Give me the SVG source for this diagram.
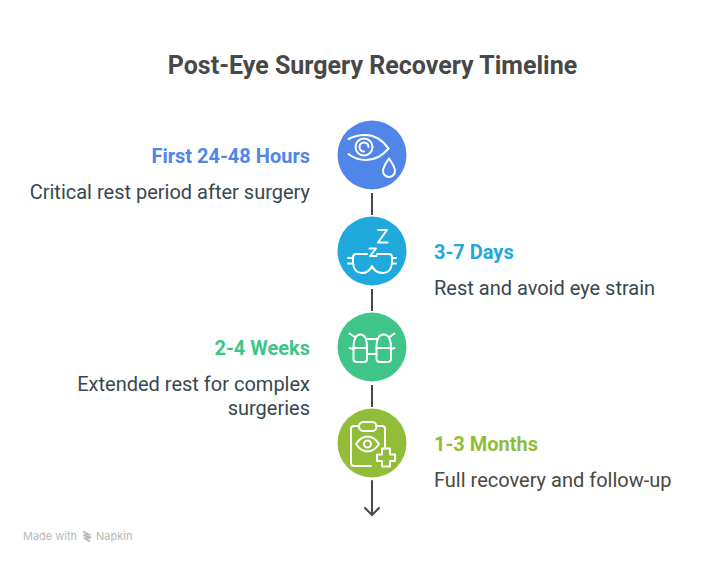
<svg xmlns="http://www.w3.org/2000/svg" width="708" height="564" viewBox="0 0 708 564">
<style>
text{font-family:Roboto,"Liberation Sans",sans-serif}
.t{font-size:25px;font-weight:700;fill:#484848}
.h{font-size:20px;font-weight:700}
.d{font-size:20px;fill:#37474f}
.d2{font-size:20px;fill:#484840}
.e{text-anchor:end}
.i{fill:none;stroke:#fff;stroke-width:2;stroke-linecap:round;stroke-linejoin:round}
.c{fill:none;stroke:#484848;stroke-width:2}
.w{font-size:11px;fill:#b8b8b8;font-family:Inter,Roboto,sans-serif}
</style>
<rect width="708" height="564" fill="#fff"/>
<text class="t" x="372.500" y="74" text-anchor="middle">Post-Eye Surgery Recovery Timeline</text>
<g id="connectors">
<path class="c" d="M372 193V215M372 289V311M372 385V407"/>
<path class="c" d="M372 481V514M365 508L372 515L379 508" stroke-linecap="round"/>
</g>
<g id="node-1">
<circle cx="372" cy="155" r="34.500" fill="#4f86e8"/>
<path class="i" d="M348.500 139Q356 135 365 135Q379 135 388.500 148.500"/>
<path class="i" d="M348.500 154Q356 160 366 160Q379 160 388.500 148.500"/>
<circle class="i" cx="364" cy="147" r="8.500"/>
<path class="i" d="M364 151.500A4.500 4.500 0 1 1 368.500 147"/>
<path class="i" d="M389 158.500Q383 167 383 171A6 6 0 0 0 395 171Q395 167 389 158.500Z"/>
<text class="h e" x="310" y="163" fill="#4f86e8">First 24-48 Hours</text>
<text class="d e" x="310" y="199">Critical rest period after surgery</text>
</g>
<g id="node-2">
<circle cx="372" cy="251" r="34.500" fill="#1fa9dc"/>
<path class="i" d="M378 230H387L378 242.500H387.500" stroke-width="2.500"/>
<path class="i" d="M369.500 248.500H376L370 256H376.500"/>
<path class="i" d="M367 254H356Q353 254 353 258V263Q354 273 362 273Q369 273 372 266Q375 273 383 273Q391 273 392 263V258Q392 254 389 254H377M348 258H353M348 263.500H353M392 258H396M392 263.500H396"/>
<text class="h" x="434" y="259" fill="#1fa9dc">3-7 Days</text>
<text class="d" x="434" y="295">Rest and avoid eye strain</text>
</g>
<g id="node-3">
<circle cx="372" cy="347" r="34.500" fill="#3ec587"/>
<path class="i" d="M353.500 348V359Q353.500 362 357 362H364Q367 362 367 359V348Q367 334.500 360.500 334.500Q353.500 334.500 353.500 348Z"/>
<path class="i" d="M376.500 348V359Q376.500 362 380 362H387Q391 362 391 359V348Q391 334.500 383.500 334.500Q376.500 334.500 376.500 348Z"/>
<path class="i" d="M353.500 348H367M376.500 348H391M367 354H376.500M367 339H376.500M349.500 333.500L355.500 337.500M394.500 333.500L389 337.500M349.500 348L353.500 349M394.500 348L391 349"/>
<text class="h e" x="310" y="355" fill="#3ec587">2-4 Weeks</text>
<text class="d e" x="310" y="391">Extended rest for complex</text>
<text class="d e" x="310" y="415">surgeries</text>
</g>
<g id="node-4">
<circle cx="372" cy="443" r="34.500" fill="#92bd39"/>
<path class="i" d="M359 426H354Q351 426 351 429V463Q351 466 354 466H371M376 426H382Q385 426 385 429V447"/>
<rect class="i" x="359" y="422" width="17.500" height="9" rx="4.500"/>
<path class="i" d="M356 444Q361 436.500 367.500 436.500Q374 436.500 379 444Q374 451.500 367.500 451.500Q361 451.500 356 444Z"/>
<circle class="i" cx="367.500" cy="444" r="3.500"/>
<path class="i" d="M382 448.500H390V454.500H395V461H390V466.500H382V461H377V454.500H382Z"/>
<text class="h" x="434" y="451" fill="#92bd39">1-3 Months</text>
<text class="d2" x="434" y="487">Full recovery and follow-up</text>
</g>
<g id="watermark">
<text class="w" x="23" y="540">Made with</text>
<path d="M83 531.500L89 534.500L83.500 535.500L91 537.500L85 538.500L90 541.500" fill="none" stroke="#b8b8b8" stroke-width="1.800"/>
<text class="w" x="96" y="540">Napkin</text>
</g>
</svg>
